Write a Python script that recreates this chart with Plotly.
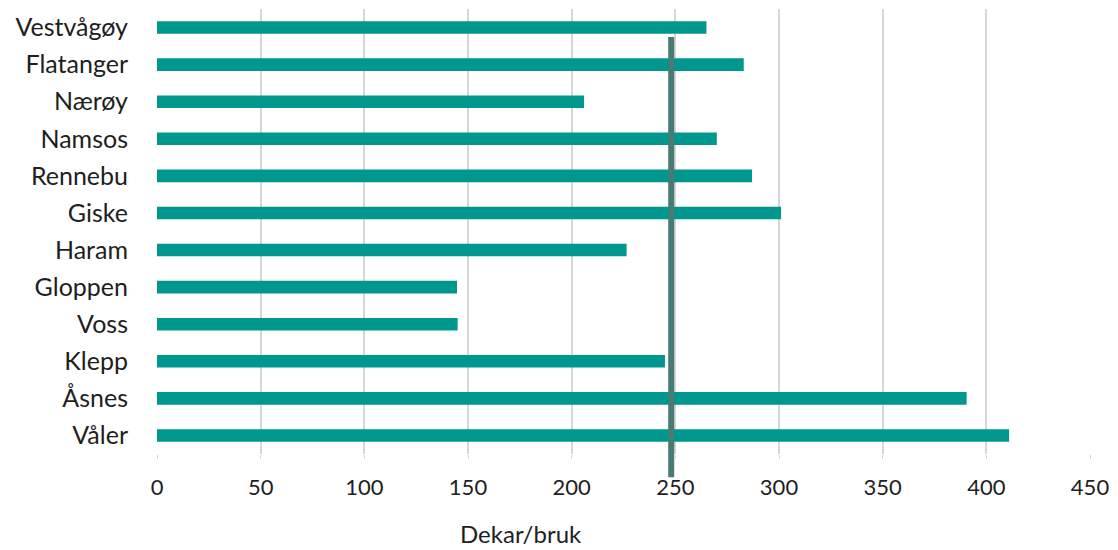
import plotly.graph_objects as go

# Kommuner (top to bottom) and farmed area per holding
kommuner = ["Vestvågøy", "Flatanger", "Nærøy", "Namsos", "Rennebu", "Giske",
            "Haram", "Gloppen", "Voss", "Klepp", "Åsnes", "Våler"]
dekar_per_bruk = [265, 283, 206, 270, 287, 301, 226.5, 144.7, 145, 245, 390.5, 411]
gjennomsnitt = 248

x_ticks = [0, 50, 100, 150, 200, 250, 300, 350, 400, 450]

BAR_COLOR = "#00978F"
AVG_COLOR = "#477B73"
FONT = "Lato, 'Open Sans', sans-serif"
TEXT_COLOR = "#1E1E1E"

fig = go.Figure()
fig.add_trace(go.Bar(
    y=kommuner,
    x=dekar_per_bruk,
    orientation="h",
    marker=dict(color=BAR_COLOR, line=dict(width=0)),
    width=0.34,
    showlegend=False,
    hoverinfo="x+y",
))

# Average line across all bars
fig.add_shape(
    type="line", xref="x", yref="paper",
    x0=gjennomsnitt, x1=gjennomsnitt, y0=-0.052, y1=0.937,
    line=dict(color=AVG_COLOR, width=6),
    layer="above",
)

fig.add_annotation(
    text="Dekar/bruk", xref="paper", yref="paper",
    x=0.39, y=-0.178, xanchor="center", yanchor="middle",
    showarrow=False, font=dict(family=FONT, size=24, color=TEXT_COLOR),
)

fig.update_layout(
    width=1118, height=550,
    margin=dict(l=157, r=25, t=9, b=96),
    paper_bgcolor="white",
    plot_bgcolor="white",
    bargap=0.66,
    font=dict(family=FONT, size=22, color=TEXT_COLOR),
    xaxis=dict(
        range=[0, 450],
        tickvals=x_ticks,
        ticktext=[str(v) for v in x_ticks],
        showgrid=True,
        gridcolor="#D6D6D6",
        gridwidth=1.5,
        zeroline=False,
        showline=False,
        ticks="outside",
        ticklen=4,
        tickcolor="#D6D6D6",
        ticklabelstandoff=10,
        tickfont=dict(family=FONT, size=22, color=TEXT_COLOR),
    ),
    yaxis=dict(
        categoryorder="array",
        categoryarray=list(reversed(kommuner)),
        showgrid=False,
        zeroline=False,
        showline=False,
        ticks="",
        ticklabelstandoff=28,
        tickfont=dict(family=FONT, size=25, color=TEXT_COLOR),
    ),
)

fig.write_html("out.html")
